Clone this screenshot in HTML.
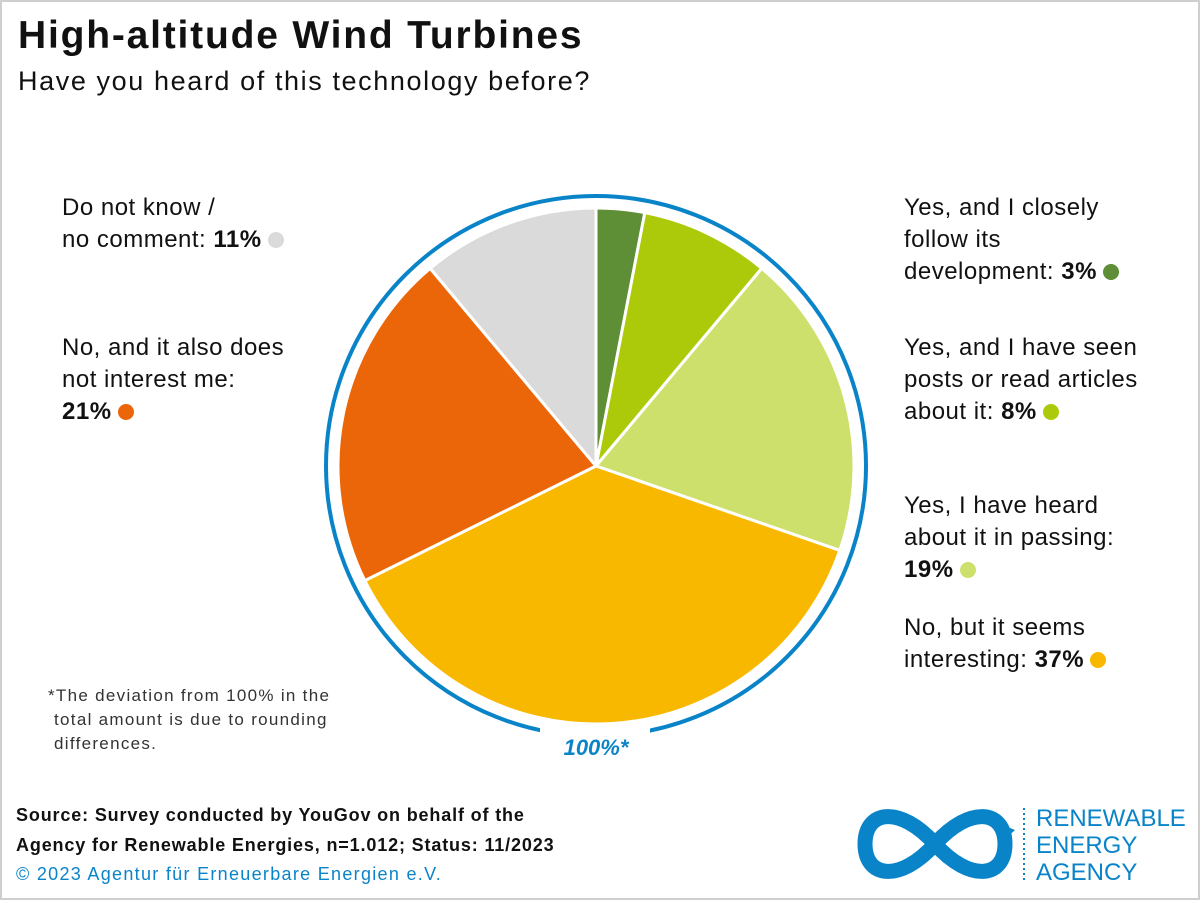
<!DOCTYPE html>
<html><head><meta charset="utf-8"><style>
body{margin:0;width:1200px;height:900px;background:#fff;overflow:hidden;font-family:"Liberation Sans",sans-serif;color:#111}
.frame{position:absolute;left:0;top:0;width:1196px;height:896px;border:2px solid #cfcfcf}
.t{position:absolute;white-space:nowrap}
.lab{font-size:24px;line-height:32px;letter-spacing:0.5px}
.dot{display:inline-block;width:16px;height:16px;border-radius:50%;vertical-align:-1px;margin-left:6px}
</style></head><body>
<div class="frame"></div>
<div class="t" style="left:18px;top:14px;font-size:39px;font-weight:bold;letter-spacing:1.8px">High-altitude Wind Turbines</div>
<div class="t" style="left:18px;top:66px;font-size:27px;letter-spacing:1.6px">Have you heard of this technology before?</div>
<svg style="position:absolute;left:0;top:0" width="1200" height="900">
<circle cx="596" cy="466" r="270" fill="none" stroke="#0a84c9" stroke-width="4"/>
<rect x="540" y="728" width="110" height="34" fill="#fff"/>
<g stroke="#fff" stroke-width="3" stroke-linejoin="round">
<path d="M596 466 L596 208 A258 258 0 0 1 644.8 212.7Z" fill="#5e8e35"/>
<path d="M596 466 L644.8 212.7 A258 258 0 0 1 761.8 268.4Z" fill="#adca0a"/>
<path d="M596 466 L761.8 268.4 A258 258 0 0 1 839.8 550.4Z" fill="#cee06c"/>
<path d="M596 466 L839.8 550.4 A258 258 0 0 1 364.8 580.6Z" fill="#f9b800"/>
<path d="M596 466 L364.8 580.6 A258 258 0 0 1 430.2 268.4Z" fill="#eb6609"/>
<path d="M596 466 L430.2 268.4 A258 258 0 0 1 596 208Z" fill="#dadada"/>
</g>
<text x="596" y="755" text-anchor="middle" font-family="Liberation Sans" font-size="22" font-weight="bold" font-style="italic" fill="#0a84c9">100%*</text>
<g fill="none" stroke="#0a84c9" stroke-width="15">
<path d="M935 844 C900 805 865 810 865 844 C865 878 900 883 935 844 C970 805 1005 810 1005 844 C1005 878 970 883 935 844"/>
</g>
<polygon points="1000,824 1015,830 1002,842" fill="#0a84c9"/>
<line x1="1024" y1="808" x2="1024" y2="882" stroke="#0a84c9" stroke-width="2" stroke-dasharray="2 3"/>
</svg>
<div class="t lab" style="left:62px;top:192px">Do not know /<br>no comment: <b>11%</b><span class="dot" style="background:#dadada"></span></div>
<div class="t lab" style="left:62px;top:332px">No, and it also does<br>not interest me:<br><b>21%</b><span class="dot" style="background:#eb6609"></span></div>
<div class="t lab" style="left:904px;top:192px">Yes, and I closely<br>follow its<br>development: <b>3%</b><span class="dot" style="background:#5e8e35"></span></div>
<div class="t lab" style="left:904px;top:332px">Yes, and I have seen<br>posts or read articles<br>about it: <b>8%</b><span class="dot" style="background:#adca0a"></span></div>
<div class="t lab" style="left:904px;top:490px">Yes, I have heard<br>about it in passing:<br><b>19%</b><span class="dot" style="background:#cee06c"></span></div>
<div class="t lab" style="left:904px;top:612px">No, but it seems<br>interesting: <b>37%</b><span class="dot" style="background:#f9b800"></span></div>
<div class="t" style="left:48px;top:684px;font-size:17px;line-height:24px;color:#333;letter-spacing:1.3px">*The deviation from 100% in the<br>&nbsp;total amount is due to rounding<br>&nbsp;differences.</div>
<div class="t" style="left:16px;top:800px;font-size:18px;line-height:30px;font-weight:bold;letter-spacing:0.85px">Source: Survey conducted by YouGov on behalf of the<br>Agency for Renewable Energies, n=1.012; Status: 11/2023</div>
<div class="t" style="left:16px;top:864px;font-size:18px;color:#0a84c9;letter-spacing:1.3px">© 2023 Agentur für Erneuerbare Energien e.V.</div>
<div class="t" style="left:1036px;top:805px;font-size:24px;line-height:27px;color:#0a84c9">RENEWABLE<br>ENERGY<br>AGENCY</div>
</body></html>
